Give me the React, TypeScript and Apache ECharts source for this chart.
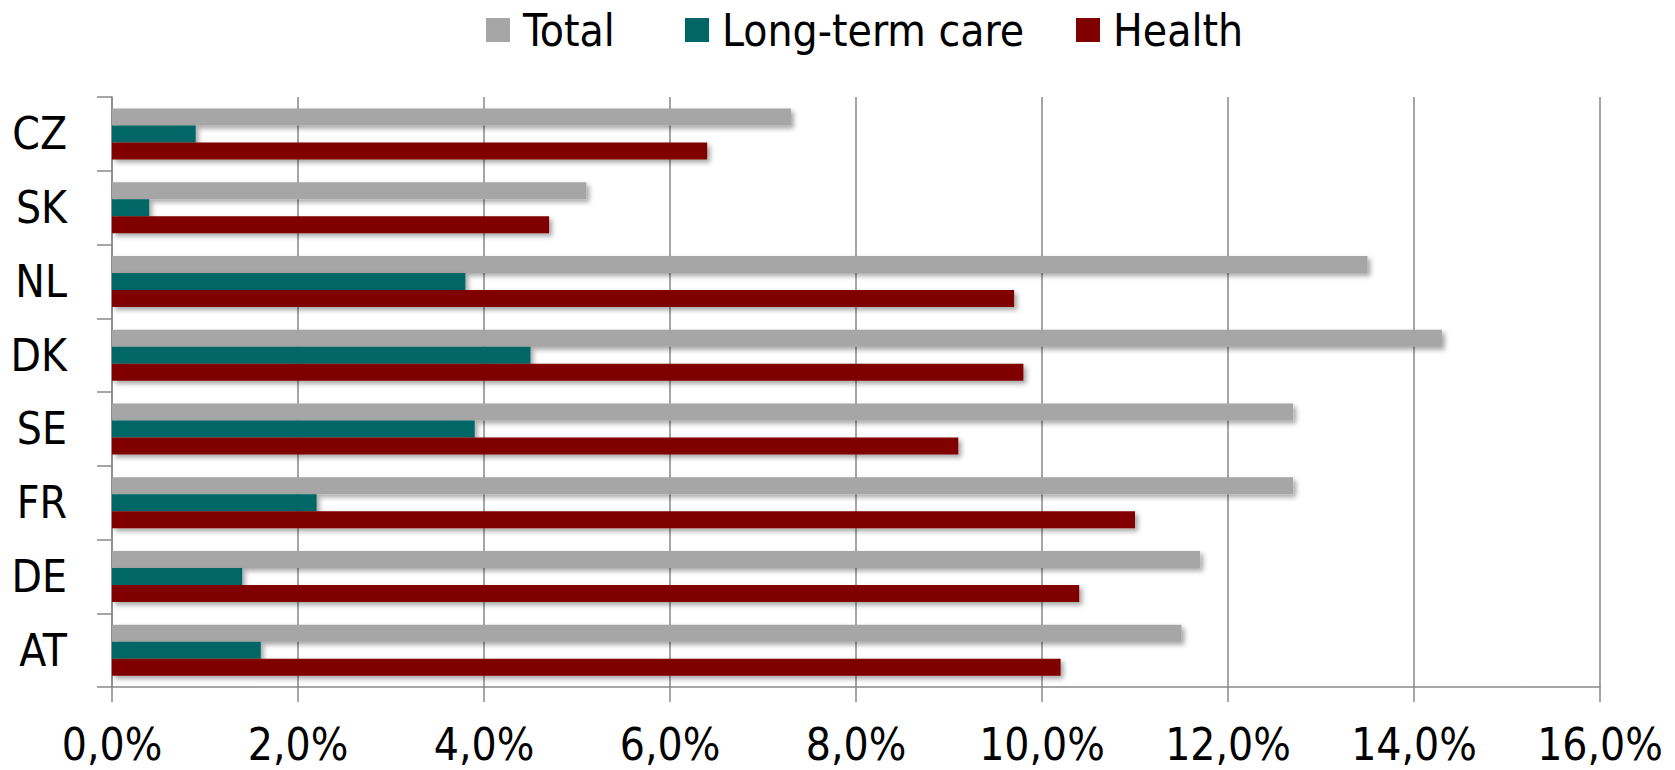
import React, { useEffect, useRef } from "react";
import * as echarts from "echarts";

const categories = ["AT", "DE", "FR", "SE", "DK", "NL", "SK", "CZ"];
const totalValues = [11.5, 11.7, 12.7, 12.7, 14.3, 13.5, 5.1, 7.3];
const ltcValues = [1.6, 1.4, 2.2, 3.9, 4.5, 3.8, 0.4, 0.9];
const healthValues = [10.2, 10.4, 11.0, 9.1, 9.8, 9.7, 4.7, 6.4];
const seriesNames = ["Total", "Long-term care", "Health"];
const seriesColors = ["#A6A6A6", "#006666", "#800000"];
const legendLefts = [481, 680, 1071];

const FONT = "'Liberation Sans Narrow', 'DejaVu Sans Condensed', 'Open Sans', sans-serif";

export default function App() {
  const ref = useRef<HTMLDivElement>(null);
  useEffect(() => {
    if (!ref.current) return;
    const chart = echarts.init(ref.current, null, { renderer: "svg" });
    const dataSets = [totalValues, ltcValues, healthValues];
    const series = seriesNames.map((name, i) => ({
      name,
      type: "bar",
      data: dataSets[i],
      barWidth: 17,
      barGap: "0%",
      barCategoryGap: "30%",
      itemStyle: {
        color: seriesColors[i],
        shadowBlur: 5,
        shadowOffsetX: 3,
        shadowOffsetY: 3,
        shadowColor: "rgba(0,0,0,0.35)",
      },
    }));
    const legends = seriesNames.map((name, i) => ({
      data: [name],
      top: 3,
      left: legendLefts[i],
      itemWidth: 24,
      itemHeight: 24,
      icon: "rect",
      textStyle: {
        fontSize: 44,
        color: "#000",
        fontFamily: FONT,
        padding: [0, 0, 0, 8],
      },
    }));
    chart.setOption({
      animation: false,
      backgroundColor: "#ffffff",
      textStyle: { fontFamily: FONT },
      legend: legends,
      grid: { left: 112, right: 75, top: 97, bottom: 83, containLabel: false },
      xAxis: {
        type: "value",
        min: 0,
        max: 16,
        interval: 2,
        axisLine: { show: true, lineStyle: { color: "#888888", width: 1.5 } },
        axisTick: { show: true, length: 15, lineStyle: { color: "#888888", width: 1.5 } },
        splitLine: { show: true, lineStyle: { color: "#888888", width: 1.5 } },
        axisLabel: {
          fontSize: 44,
          color: "#000",
          fontFamily: FONT,
          margin: 35,
          formatter: (v: number) => v.toFixed(1).replace(".", ",") + "%",
        },
      },
      yAxis: {
        type: "category",
        data: categories,
        axisLine: { show: true, lineStyle: { color: "#888888", width: 1.5 } },
        axisTick: { show: true, length: 15, lineStyle: { color: "#888888", width: 1.5 } },
        axisLabel: { fontSize: 44, color: "#000", fontFamily: FONT, margin: 45 },
      },
      series,
    });
    return () => chart.dispose();
  }, []);
  return (
    <div
      ref={ref}
      style={{ position: "fixed", left: 0, top: 0, width: 1675, height: 770 }}
    />
  );
}
